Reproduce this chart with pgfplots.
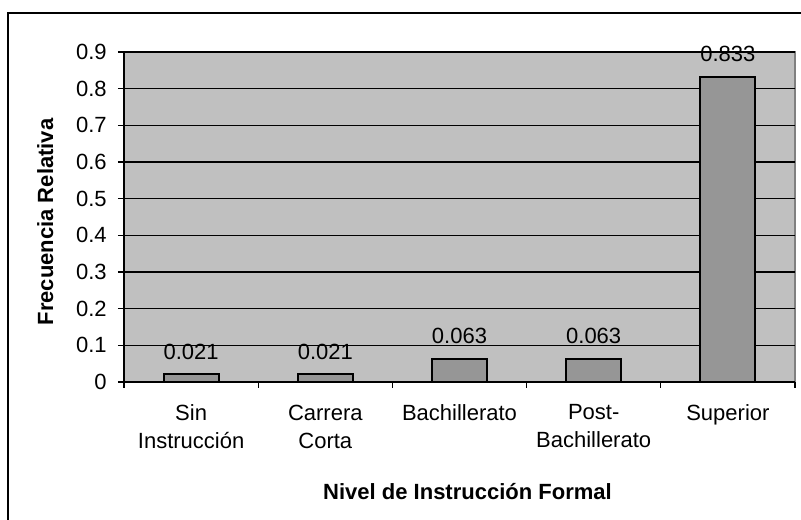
\documentclass[border=0pt]{standalone}
\usepackage{pgfplots}
\pgfplotsset{compat=1.18}
\usepackage{fontspec}
\setmainfont{Liberation Sans}
\definecolor{plotbg}{HTML}{C0C0C0}
\definecolor{barfill}{HTML}{969696}
\definecolor{frame}{HTML}{808080}
\begin{document}
\begin{tikzpicture}[x=0.75pt,y=0.75pt]
\begin{axis}[
  scale only axis, width=503.25pt, height=247.5pt,
  xmin=-0.5, xmax=4.5, ymin=0, ymax=0.9,
  axis background/.style={fill=plotbg, draw=frame, line width=1pt},
  axis x line*=bottom, axis y line*=left,
  axis line style={black, line width=0.8pt, -},
  ytick={0,0.1,...,0.9},
  yticklabels={0,0.1,0.2,0.3,0.4,0.5,0.6,0.7,0.8,0.9},
  ymajorgrids, grid style={black, line width=0.8pt},
  xtick={0,1,2,3,4},
  xticklabels={{Sin\\Instrucción},{Carrera\\Corta},{Bachillerato},{Post-\\Bachillerato},{Superior}},
  minor xtick={-0.5,0.5,1.5,2.5,3.5,4.5},
  major x tick style={draw=none},
  tick style={black, line width=0.8pt},
  tick align=outside, major tick length=4.5pt, minor tick length=4.5pt,
  xticklabel style={align=center, font=\fontsize{16.5}{21}\selectfont, yshift=-9pt},
  yticklabel style={font=\fontsize{16.5}{20}\selectfont, xshift=-5pt},
  xlabel={Nivel de Instrucción Formal},
  ylabel={Frecuencia Relativa},
  xlabel style={font=\fontsize{16.5}{20}\bfseries, at={([xshift=6pt,yshift=-82.5pt]axis description cs:0.5,0)}, anchor=center},
  ylabel style={font=\fontsize{16.5}{20}\bfseries, at={([xshift=-59pt]axis description cs:0,0.485)}, anchor=center},
  ybar, bar width=41.25pt,
  point meta=explicit symbolic,
  nodes near coords,
  nodes near coords style={font=\fontsize{16.5}{20}\selectfont, yshift=7pt, text=black},
  clip=false,
]
\addplot[draw=black, line width=1.5pt, fill=barfill] coordinates {(0,0.021) [0.021] (1,0.021) [0.021] (2,0.063) [0.063] (3,0.063) [0.063] (4,0.833) [0.833]};
\end{axis}
\pgfresetboundingbox
\useasboundingbox (-124,-138) rectangle (677,382);
\draw[line width=1.5pt] (-116,-160) -- (-116,369) -- (700,369);
\end{tikzpicture}
\end{document}
